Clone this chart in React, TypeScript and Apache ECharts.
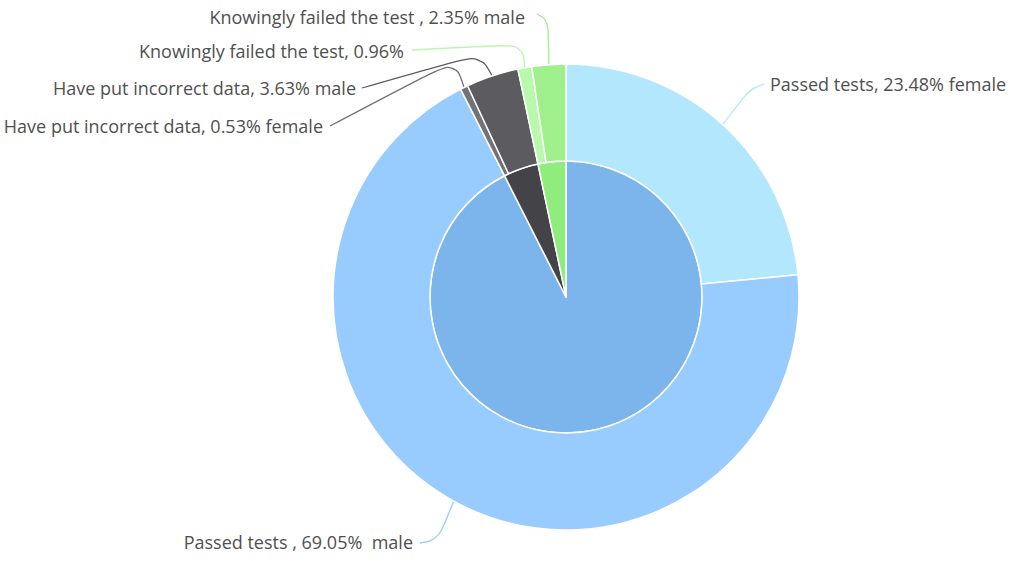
import React, { useEffect, useRef } from "react";
import * as echarts from "echarts";

const innerNames = ["Passed tests", "Have put incorrect data", "Knowingly failed the test"];
const innerValues = [92.53, 4.16, 3.31];
const innerColors = ["#7cb5ec", "#434348", "#90ed7d"];

const outerNames = [
  "Passed tests female",
  "Passed tests male",
  "Have put incorrect data female",
  "Have put incorrect data male",
  "Knowingly failed the test female",
  "Knowingly failed the test male",
];
const outerValues = [23.48, 69.05, 0.53, 3.63, 0.96, 2.35];
const outerLabels = [
  "Passed tests, 23.48% female",
  "Passed tests , 69.05%  male",
  "Have put incorrect data, 0.53% female",
  "Have put incorrect data, 3.63% male",
  "Knowingly failed the test, 0.96%",
  "Knowingly failed the test , 2.35% male",
];
const outerColors = ["#b3e7fe", "#99ccfe", "#727277", "#5b5b60", "#b8f9ab", "#9ff08c"];

// label placement: [textX, textY, align, bendX, bendY, endX, endY]
const labelPlacement: [number, number, string, number, number, number, number][] = [
  [770, 84, "left", 750, 89, 764, 84],
  [413, 542, "right", 438, 540, 420, 543],
  [323, 126, "right", 455, 60, 330, 126],
  [356, 88, "right", 480, 54, 362, 88],
  [404, 51, "right", 523, 44, 412, 50],
  [525, 17, "right", 548, 20, 537, 14],
];

export default function App() {
  const ref = useRef<HTMLDivElement>(null);
  useEffect(() => {
    const chart = echarts.init(ref.current!, null, { renderer: "svg" });
    chart.setOption({
      animation: false,
      backgroundColor: "#ffffff",
      series: [
        {
          type: "pie",
          center: [566, 297],
          radius: [0, 136],
          startAngle: 90,
          clockwise: true,
          silent: true,
          label: { show: false },
          labelLine: { show: false },
          itemStyle: { borderColor: "#ffffff", borderWidth: 1.5 },
          data: innerNames.map((n, i) => ({
            name: n,
            value: innerValues[i],
            itemStyle: { color: innerColors[i] },
          })),
        },
        {
          type: "pie",
          center: [566, 297],
          radius: [136, 233],
          startAngle: 90,
          clockwise: true,
          silent: true,
          avoidLabelOverlap: false,
          itemStyle: { borderColor: "#ffffff", borderWidth: 1.5 },
          label: {
            show: true,
            color: "#505050",
            fontSize: 18,
            fontFamily: "Open Sans",
            formatter: (p: any) => outerLabels[p.dataIndex],
          },
          labelLine: { show: true, smooth: 0.4, length: 20, length2: 20, lineStyle: { width: 1.3 } },
          labelLayout: (p: any) => {
            const pl = labelPlacement[p.dataIndex];
            const start = p.labelLinePoints ? p.labelLinePoints[0] : [pl[3], pl[4]];
            return {
              x: pl[0],
              y: pl[1],
              align: pl[2],
              verticalAlign: "middle",
              labelLinePoints: [start, [pl[3], pl[4]], [pl[5], pl[6]]],
            };
          },
          data: outerNames.map((n, i) => ({
            name: n,
            value: outerValues[i],
            itemStyle: { color: outerColors[i] },
            labelLine: { lineStyle: { color: outerColors[i] } },
          })),
        },
      ],
    });
    return () => chart.dispose();
  }, []);
  return (
    <div
      ref={ref}
      style={{ position: "absolute", left: 0, top: 0, width: 1023, height: 561 }}
    />
  );
}
